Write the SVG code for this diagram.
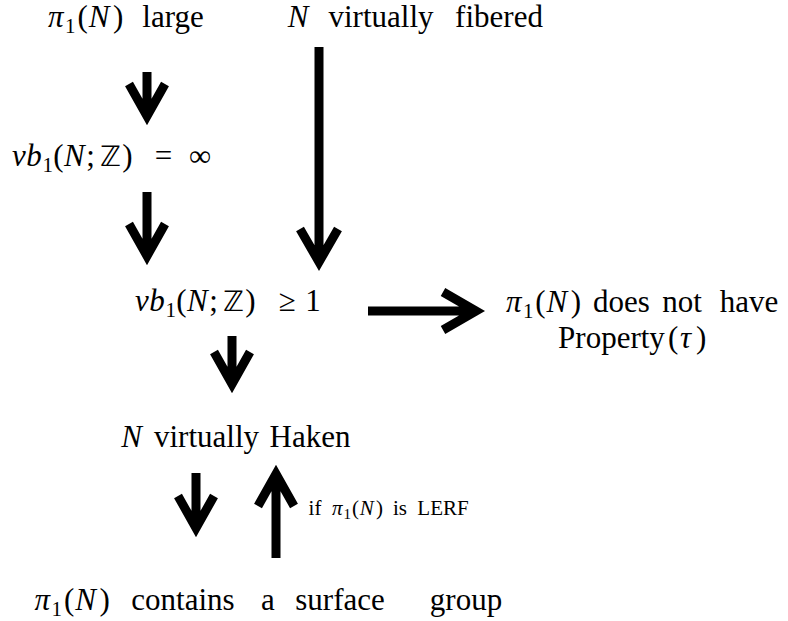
<svg xmlns="http://www.w3.org/2000/svg" width="788" height="621" viewBox="0 0 788 621">
<rect width="788" height="621" fill="#fff"/>
<g id="n-large">
<text x="48" y="27" style="font-family:'Liberation Serif',serif;font-size:31px;font-style:italic">π</text>
<text x="65" y="33" style="font-family:'Liberation Serif',serif;font-size:21px">1</text>
<text x="77.4" y="27" style="font-family:'Liberation Serif',serif;font-size:31px">(</text>
<text x="88.7" y="27" style="font-family:'Liberation Serif',serif;font-size:31px;font-style:italic">N</text>
<text x="113" y="27" style="font-family:'Liberation Serif',serif;font-size:31px">)</text>
<text x="173" y="27" style="font-family:'Liberation Serif',serif;font-size:31px" text-anchor="middle">large</text>
</g>
<g id="n-fibered">
<text x="298" y="27" style="font-family:'Liberation Serif',serif;font-size:31px;font-style:italic" text-anchor="middle">N</text>
<text x="381" y="27" style="font-family:'Liberation Serif',serif;font-size:31px" text-anchor="middle">virtually</text>
<text x="499" y="27" style="font-family:'Liberation Serif',serif;font-size:31px" text-anchor="middle">fibered</text>
</g>
<g id="n-vbinf">
<text x="12" y="166" style="font-family:'Liberation Serif',serif;font-size:31px;font-style:italic">v</text>
<text x="26.3" y="166" style="font-family:'Liberation Serif',serif;font-size:31px;font-style:italic">b</text>
<text x="42.4" y="172" style="font-family:'Liberation Serif',serif;font-size:21px">1</text>
<text x="53.3" y="166" style="font-family:'Liberation Serif',serif;font-size:31px">(</text>
<text x="64" y="166" style="font-family:'Liberation Serif',serif;font-size:31px;font-style:italic">N</text>
<text x="86.2" y="166" style="font-family:'Liberation Serif',serif;font-size:31px">;</text>
<text x="100.3" y="166" style="font-family:'DejaVu Sans',sans-serif;font-size:28px">ℤ</text>
<text x="122.3" y="166" style="font-family:'Liberation Serif',serif;font-size:31px">)</text>
<text x="163.5" y="166" style="font-family:'Liberation Serif',serif;font-size:31px" text-anchor="middle">=</text>
<text x="200" y="166" style="font-family:'Liberation Serif',serif;font-size:31px" text-anchor="middle">∞</text>
</g>
<g id="n-vb1">
<text x="135" y="311" style="font-family:'Liberation Serif',serif;font-size:31px;font-style:italic">v</text>
<text x="149.3" y="311" style="font-family:'Liberation Serif',serif;font-size:31px;font-style:italic">b</text>
<text x="165.4" y="317" style="font-family:'Liberation Serif',serif;font-size:21px">1</text>
<text x="176.3" y="311" style="font-family:'Liberation Serif',serif;font-size:31px">(</text>
<text x="187" y="311" style="font-family:'Liberation Serif',serif;font-size:31px;font-style:italic">N</text>
<text x="209.2" y="311" style="font-family:'Liberation Serif',serif;font-size:31px">;</text>
<text x="223.3" y="311" style="font-family:'DejaVu Sans',sans-serif;font-size:28px">ℤ</text>
<text x="245.3" y="311" style="font-family:'Liberation Serif',serif;font-size:31px">)</text>
<text x="287" y="311" style="font-family:'Liberation Serif',serif;font-size:31px" text-anchor="middle">≥</text>
<text x="313" y="311" style="font-family:'Liberation Serif',serif;font-size:31px" text-anchor="middle">1</text>
</g>
<g id="n-tau">
<text x="506" y="312" style="font-family:'Liberation Serif',serif;font-size:31px;font-style:italic">π</text>
<text x="523" y="318" style="font-family:'Liberation Serif',serif;font-size:21px">1</text>
<text x="535.2" y="312" style="font-family:'Liberation Serif',serif;font-size:31px">(</text>
<text x="546.5" y="312" style="font-family:'Liberation Serif',serif;font-size:31px;font-style:italic">N</text>
<text x="570.8" y="312" style="font-family:'Liberation Serif',serif;font-size:31px">)</text>
<text x="621.5" y="312" style="font-family:'Liberation Serif',serif;font-size:31px" text-anchor="middle">does</text>
<text x="682" y="312" style="font-family:'Liberation Serif',serif;font-size:31px" text-anchor="middle">not</text>
<text x="749" y="312" style="font-family:'Liberation Serif',serif;font-size:31px" text-anchor="middle">have</text>
<text x="611.5" y="348" style="font-family:'Liberation Serif',serif;font-size:31px" text-anchor="middle">Property</text>
<text x="668" y="348" style="font-family:'Liberation Serif',serif;font-size:31px">(</text>
<text x="680" y="348" style="font-family:'Liberation Serif',serif;font-size:31px;font-style:italic">τ</text>
<text x="696" y="348" style="font-family:'Liberation Serif',serif;font-size:31px">)</text>
</g>
<g id="n-haken">
<text x="131.6" y="447" style="font-family:'Liberation Serif',serif;font-size:31px;font-style:italic" text-anchor="middle">N</text>
<text x="206.5" y="447" style="font-family:'Liberation Serif',serif;font-size:31px" text-anchor="middle">virtually</text>
<text x="310" y="447" style="font-family:'Liberation Serif',serif;font-size:31px" text-anchor="middle">Haken</text>
</g>
<g id="n-surface">
<text x="34.6" y="610" style="font-family:'Liberation Serif',serif;font-size:31px;font-style:italic">π</text>
<text x="51.6" y="616" style="font-family:'Liberation Serif',serif;font-size:21px">1</text>
<text x="63.9" y="610" style="font-family:'Liberation Serif',serif;font-size:31px">(</text>
<text x="75.2" y="610" style="font-family:'Liberation Serif',serif;font-size:31px;font-style:italic">N</text>
<text x="99.5" y="610" style="font-family:'Liberation Serif',serif;font-size:31px">)</text>
<text x="183" y="610" style="font-family:'Liberation Serif',serif;font-size:31px" text-anchor="middle">contains</text>
<text x="268" y="610" style="font-family:'Liberation Serif',serif;font-size:31px" text-anchor="middle">a</text>
<text x="340" y="610" style="font-family:'Liberation Serif',serif;font-size:31px" text-anchor="middle">surface</text>
<text x="466" y="610" style="font-family:'Liberation Serif',serif;font-size:31px" text-anchor="middle">group</text>
</g>
<g id="connectors" fill="none" stroke="#000" stroke-width="9" stroke-linejoin="miter" stroke-miterlimit="10">
<path d="M147 72V116M129 84L147 116L165 84"/>
<path d="M147 192V256M129 224L147 256L165 224"/>
<path d="M319 47V262M300 229L319 262L338 229"/>
<path d="M368 311H476M443 292L476 311L443 330"/>
<path d="M232 336V384M214 352L232 384L250 352"/>
<path d="M196 473V528M178 496L196 528L214 496"/>
<path d="M276 558V474M258 506L276 474L294 506"/>
</g>
<g id="label-lerf">
<text x="315" y="515" style="font-family:'Liberation Serif',serif;font-size:21px" text-anchor="middle">if</text>
<text x="332" y="515" style="font-family:'Liberation Serif',serif;font-size:21px;font-style:italic">π</text>
<text x="343.6" y="519" style="font-family:'Liberation Serif',serif;font-size:15px">1</text>
<text x="352.1" y="515" style="font-family:'Liberation Serif',serif;font-size:21px">(</text>
<text x="359.8" y="515" style="font-family:'Liberation Serif',serif;font-size:21px;font-style:italic">N</text>
<text x="376" y="515" style="font-family:'Liberation Serif',serif;font-size:21px">)</text>
<text x="400" y="515" style="font-family:'Liberation Serif',serif;font-size:21px" text-anchor="middle">is</text>
<text x="443" y="515" style="font-family:'Liberation Serif',serif;font-size:21px" text-anchor="middle">LERF</text>
</g>
</svg>
